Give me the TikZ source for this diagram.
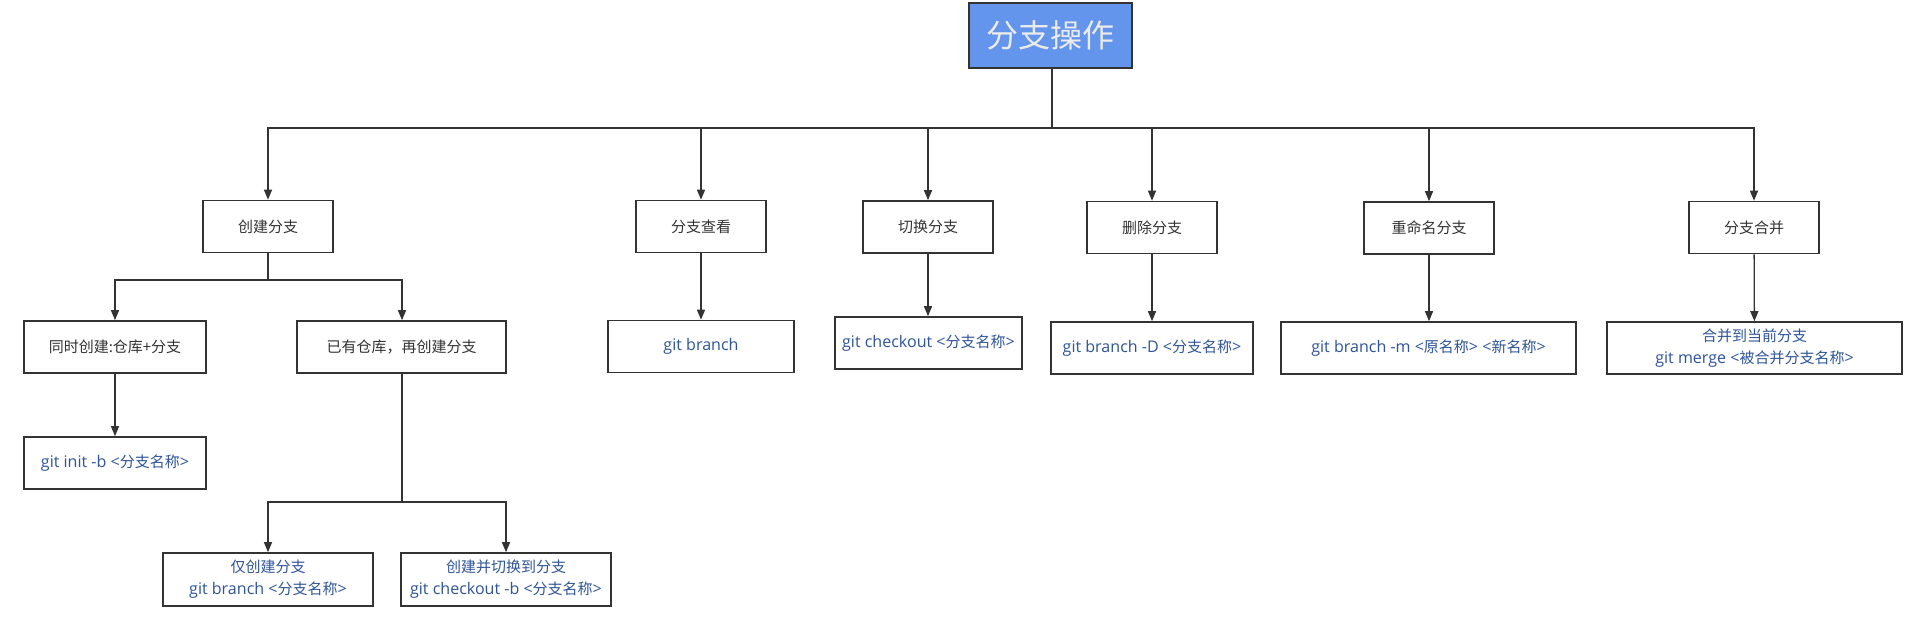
\documentclass[tikz,border=0pt]{standalone}
\usepackage{fontspec}
\setmainfont{Open Sans}[Scale=1.07]
\newfontfamily\cjk{Noto Sans CJK SC}
\newcommand{\zh}[1]{{\cjk #1}}
\usetikzlibrary{arrows.meta}
\definecolor{linec}{HTML}{333333}
\definecolor{cmdc}{HTML}{2F5597}
\definecolor{rootfill}{HTML}{6495ED}
\definecolor{roottext}{HTML}{EBEBEB}
\tikzset{
  box/.style={draw=linec, line width=1.6pt, fill=white, inner sep=0pt, align=center,
    font=\fontsize{15}{22}\selectfont, text=linec, minimum height=52pt},
  cmd/.style={box, text=cmdc},
  rootbox/.style={draw=linec, line width=1.6pt, fill=rootfill, inner sep=0pt,
    minimum width=163pt, minimum height=65pt, font=\fontsize{32}{36}\selectfont\cjk, text=roottext},
  conn/.style={draw=linec, line width=1.3pt},
  arr/.style={conn, -{Triangle[length=10pt,width=8pt]}},
}
\begin{document}
\begin{tikzpicture}[x=1pt,y=-1pt]
\useasboundingbox (0,0) rectangle (1920,644);
\fill[white] (0,0) rectangle (1920,644);
% root
\node[rootbox] (root) at (1050.5,35.5) {分支操作};
% level 1
\node[box, minimum width=130pt] (cj) at (268,226.5) {\zh{创建分支}};
\node[box, minimum width=130pt] (ck) at (701,226.5) {\zh{分支查看}};
\node[box, minimum width=130pt] (qh) at (928,227) {\zh{切换分支}};
\node[box, minimum width=130pt] (sc) at (1152,227.5) {\zh{删除分支}};
\node[box, minimum width=130pt] (cm) at (1429,228) {\zh{重命名分支}};
\node[box, minimum width=130pt] (hb) at (1754,227.5) {\zh{分支合并}};
% commands
\node[cmd, minimum width=186pt] (gb) at (701,346.5) {git branch};
\node[cmd, minimum width=187pt] (gco) at (928.5,343) {git checkout <\zh{分支名称}>};
\node[cmd, minimum width=202pt] (gbd) at (1152,348) {git branch -D <\zh{分支名称}>};
\node[cmd, minimum width=295pt] (gbm) at (1428.5,348) {git branch -m <\zh{原名称}> <\zh{新名称}>};
\node[cmd, minimum width=295pt] (gm) at (1754.5,348) {\zh{合并到当前分支}\\git merge <\zh{被合并分支名称}>};
% create branch subtree
\node[box, minimum width=182pt] (tc) at (115,347) {\zh{同时创建:仓库+分支}};
\node[box, minimum width=209pt] (yy) at (401.5,347) {\zh{已有仓库，再创建分支}};
\node[cmd, minimum width=182pt] (gi) at (115,463) {git init -b <\zh{分支名称}>};
\node[cmd, minimum width=210pt, minimum height=53pt] (jc) at (268,579.5) {\zh{仅创建分支}\\git branch <\zh{分支名称}>};
\node[cmd, minimum width=210pt, minimum height=53pt] (cq) at (506,579.5) {\zh{创建并切换到分支}\\git checkout -b <\zh{分支名称}>};
% bus coordinates
\coordinate (bus1) at (1052,128);
\coordinate (bus2) at (268,280);
\coordinate (bus3) at (402,502);
% top level connectors
\draw[conn] (root.south -| bus1) -- (bus1);
\foreach \n in {cj,ck,qh,sc,cm,hb}{
  \draw[arr] (bus1) -| (\n.north);
}
% level1 -> commands
\draw[arr] (ck) -- (gb);
\draw[arr] (qh) -- (gco.north -| qh);
\draw[arr] (sc) -- (gbd);
\draw[arr] (cm.south) -- (gbm.north -| cm.south);
\draw[arr] (hb) -- (gm);
% create branch subtree
\draw[conn] (cj.south) -- (bus2);
\draw[arr] (bus2) -| (tc.north);
\draw[arr] (bus2) -| (yy.north -| bus3);
\draw[arr] (tc) -- (gi);
\draw[conn] (yy.south -| bus3) -- (bus3);
\draw[arr] (bus3) -| (jc.north);
\draw[arr] (bus3) -| (cq.north);
\end{tikzpicture}
\end{document}
